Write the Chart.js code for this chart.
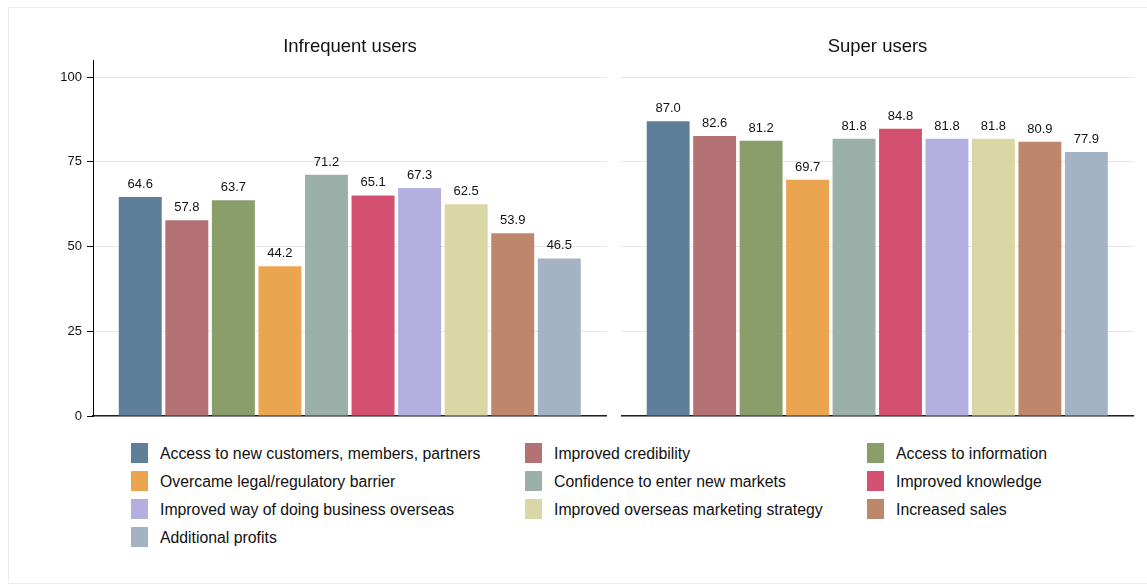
<!DOCTYPE html>
<html>
<head>
<meta charset="utf-8">
<script src="https://cdn.jsdelivr.net/npm/chart.js@4.4.1/dist/chart.umd.min.js"></script>
<style>
  body { margin: 0; width: 1147px; height: 584px; background: #fff; position: relative; overflow: hidden;
         font-family: "Liberation Sans", Arial, sans-serif; }
  #frame { position: absolute; left: 8px; top: 7px; width: 1145px; height: 575px; border: 1px solid #ececec; }
  #leftChart { position: absolute; left: 0; top: 0; }
  #rightChart { position: absolute; left: 621px; top: 0; }
  .item { position: absolute; height: 20px; }
  .swatch { position: absolute; left: 0; top: 0; width: 17px; height: 20px; }
  .label { position: absolute; left: 29px; top: 0; line-height: 22px; font-size: 15.8px; color: #111; white-space: nowrap; }
</style>
</head>
<body>
<div id="frame"></div>
<canvas id="leftChart" width="607" height="430"></canvas>
<canvas id="rightChart" width="513" height="430"></canvas>
<div id="legend"></div>
<script>
// benefit categories, same order in both panels
const benefits = [
    'Access to new customers, members, partners',
    'Improved credibility',
    'Access to information',
    'Overcame legal/regulatory barrier',
    'Confidence to enter new markets',
    'Improved knowledge',
    'Improved way of doing business overseas',
    'Improved overseas marketing strategy',
    'Increased sales',
    'Additional profits'
];

// percent of firms reporting each benefit
const infrequentUsers = [64.6, 57.8, 63.7, 44.2, 71.2, 65.1, 67.3, 62.5, 53.9, 46.5];
const superUsers = [87.0, 82.6, 81.2, 69.7, 81.8, 84.8, 81.8, 81.8, 80.9, 77.9];

const yTicks = [0, 25, 50, 75, 100];

const barColors = [
    'rgb(95, 126, 153)',
    'rgb(180, 114, 116)',
    'rgb(137, 158, 107)',
    'rgb(235, 165, 79)',
    'rgb(155, 176, 168)',
    'rgb(212, 80, 112)',
    'rgb(179, 176, 224)',
    'rgb(219, 214, 165)',
    'rgb(190, 135, 108)',
    'rgb(163, 179, 195)'
];

Chart.defaults.font.family = '"Liberation Sans", Arial, sans-serif';
Chart.defaults.color = '#111';

// write the value above each bar
const barLabels = {
    id: 'barLabels',
    afterDatasetsDraw(chart) {
        const ctx = chart.ctx;
        const meta = chart.getDatasetMeta(0);
        ctx.save();
        ctx.font = '13px "Liberation Sans", Arial, sans-serif';
        ctx.fillStyle = '#111';
        ctx.textAlign = 'center';
        ctx.textBaseline = 'alphabetic';
        meta.data.forEach((bar, i) => {
            const v = chart.data.datasets[0].data[i].y;
            ctx.fillText(v.toFixed(1), bar.x, bar.y - 9);
        });
        ctx.restore();
    }
};

function makePanel(canvasId, title, values, showAxis) {
    const ctx = document.getElementById(canvasId).getContext('2d');
    return new Chart(ctx, {
        type: 'bar',
        data: {
            datasets: [{
                label: title,
                data: values.map((v, i) => ({ x: i, y: v })),
                backgroundColor: barColors,
                borderWidth: 0,
                barPercentage: 0.923,
                categoryPercentage: 1
            }]
        },
        options: {
            responsive: false,
            animation: false,
            layout: { padding: { top: 36, bottom: 14, left: 0, right: 0 } },
            scales: {
                x: {
                    type: 'linear',
                    offset: false,
                    min: -1.015,
                    max: 10.025,
                    ticks: { display: false },
                    grid: { display: false, drawTicks: false, offset: false },
                    border: { display: true, color: '#222', width: 1.5 },
                    afterFit: s => { s.height = 0; }
                },
                y: {
                    min: 0,
                    max: 105,
                    afterBuildTicks: s => { s.ticks = yTicks.map(v => ({ value: v })); },
                    afterFit: s => { s.width = showAxis ? 93 : 0; },
                    ticks: {
                        display: showAxis,
                        padding: 5,
                        color: '#111',
                        font: { size: 13 }
                    },
                    grid: {
                        color: '#e6e6e6',
                        tickColor: '#000',
                        tickLength: 6,
                        drawTicks: showAxis
                    },
                    border: { display: showAxis, color: '#000', width: 1 }
                }
            },
            plugins: {
                legend: { display: false },
                tooltip: { enabled: false },
                title: {
                    display: true,
                    text: title,
                    fullSize: false,
                    color: '#111',
                    font: { size: 18.5, weight: 'normal' },
                    padding: { top: 0, bottom: 2 }
                }
            }
        },
        plugins: [barLabels]
    });
}

makePanel('leftChart', 'Infrequent users', infrequentUsers, true);
makePanel('rightChart', 'Super users', superUsers, false);

// legend below the panels, three columns
const legendCols = [131, 525, 867];
const legend = document.getElementById('legend');
benefits.forEach((name, i) => {
    const item = document.createElement('div');
    item.className = 'item';
    item.style.left = legendCols[i % 3] + 'px';
    item.style.top = (443 + 28 * Math.floor(i / 3)) + 'px';
    item.innerHTML = '<div class="swatch" style="background:' + barColors[i] + '"></div>' +
        '<div class="label">' + name + '</div>';
    legend.appendChild(item);
});
</script>
</body>
</html>
